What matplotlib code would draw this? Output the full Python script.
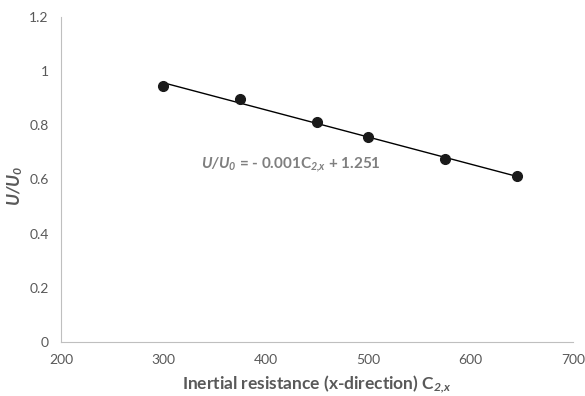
import numpy as np
import matplotlib
matplotlib.use("Agg")
import matplotlib.pyplot as plt

plt.rcParams['font.family'] = ['Lato', 'DejaVu Sans']
plt.rcParams['mathtext.fontset'] = 'custom'
plt.rcParams['mathtext.rm'] = 'Lato'
plt.rcParams['mathtext.it'] = 'Lato:italic'
plt.rcParams['mathtext.bf'] = 'Lato:bold'
plt.rcParams['mathtext.bfit'] = 'Lato:italic:bold'

x_vals = [300, 375, 450, 500, 575, 645]
y_vals = [0.945, 0.895, 0.81, 0.755, 0.675, 0.612]
x_ticks = [200, 300, 400, 500, 600, 700]
y_ticks = [0, 0.2, 0.4, 0.6, 0.8, 1.0, 1.2]
y_ticklabels = ["0", "0.2", "0.4", "0.6", "0.8", "1", "1.2"]

fig = plt.figure(figsize=(5.85, 3.96), dpi=100)
ax = fig.add_axes([61/585, 1 - 342/396, (573-61)/585, (342-16.7)/396])

coef = np.polyfit(x_vals, y_vals, 1)
xf = np.array([min(x_vals), max(x_vals)])
ax.plot(xf, np.polyval(coef, xf), color='black', lw=1.0, zorder=2)
ax.plot(x_vals, y_vals, 'o', color='#1a1a1a', markersize=7, zorder=3)

ax.set_xlim(200, 700)
ax.set_ylim(0, 1.2)
ax.set_xticks(x_ticks)
ax.set_yticks(y_ticks)
ax.set_yticklabels(y_ticklabels)
for s in ['top', 'right']:
    ax.spines[s].set_visible(False)
for s in ['left', 'bottom']:
    ax.spines[s].set_color('#bfbfbf')
    ax.spines[s].set_linewidth(0.8)
ax.tick_params(length=0, labelsize=10, labelcolor='#595959', pad=9)

ax.set_xlabel("Inertial resistance (x-direction) C$_{\\mathbfit{2{,}x}}$",
              fontsize=12.5, fontweight='bold', color='#595959',
              va='center')
ax.xaxis.set_label_coords(0.5, -(384 - 342) / 325.3)
ax.set_ylabel("$\\mathbfit{U/U_0}$", fontsize=12.5, color='#595959',
              va='center', ha='center')
ax.yaxis.set_label_coords((15 - 61) / 512, 0.48)

ax.text((201 - 61) / 512, (342 - 165) / 325.3,
        "$\\mathbfit{U/U_0}$ = - 0.001C$_{\\mathbfit{2{,}x}}$ + 1.251",
        transform=ax.transAxes, fontsize=11, fontweight='bold', color='#7f7f7f',
        ha='left', va='center')

fig.savefig("out.png", dpi=100)
